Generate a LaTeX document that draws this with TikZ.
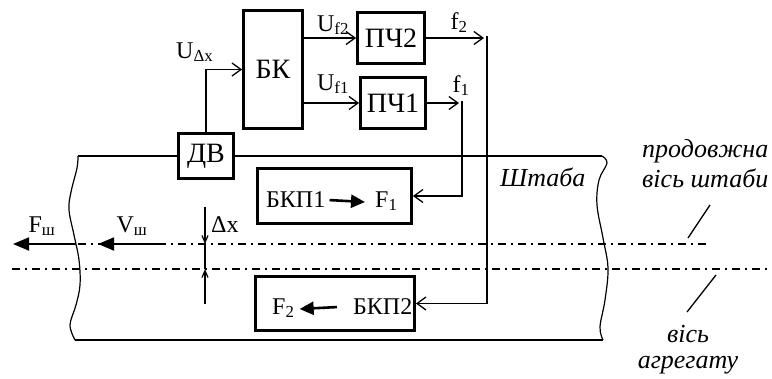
\documentclass[tikz,border=0pt]{standalone}
\usepackage{fontspec}
\setmainfont{Liberation Serif}
\usetikzlibrary{arrows.meta}
\begin{document}
\begin{tikzpicture}[x=1pt,y=-1pt,
  font=\fontsize{24}{28}\selectfont,
  blk/.style={draw,line width=2.8pt,inner sep=0pt},
  blkt/.style={font=\fontsize{28}{32}\selectfont},
  wire/.style={line width=1.3pt},
  sig/.style={wire,-{Straight Barb[length=9pt,width=13pt,line width=1.3pt]}},
  big/.style={line width=1.8pt,-{Triangle[length=16pt,width=13pt]}},
  inarr/.style={line width=2.6pt,-{Triangle[length=14pt,width=13pt]}},
  small/.style={line width=1.2pt,-{Straight Barb[length=7pt,width=6pt,line width=1.2pt]}},
  axisl/.style={line width=1.3pt,dash pattern=on 8pt off 5pt on 2pt off 5pt},
  stripe/.style={line width=2.6pt},
  wavy/.style={line width=1.2pt},
  lbl/.style={inner sep=0pt,anchor=base},
  lbll/.style={inner sep=0pt,anchor=base west},
  ital/.style={font=\fontsize{26}{30}\selectfont\itshape}
]
\useasboundingbox (0,0) rectangle (772,378);

% blocks
\node[blk,blkt,minimum width=55pt,minimum height=45pt] (dv) at (206,156) {ДВ};
\node[blk,blkt,minimum width=59pt,minimum height=118pt] (bk) at (273,69.5) {БК};
\node[blk,blkt,minimum width=67pt,minimum height=51pt] (pch2) at (391,38) {ПЧ2};
\node[blk,blkt,minimum width=65pt,minimum height=51pt] (pch1) at (393,103) {ПЧ1};
\node[blk,minimum width=154pt,minimum height=55pt] (bkp1) at (334.5,196) {};
\node[blk,minimum width=159pt,minimum height=54pt] (bkp2) at (335,303.5) {};

% inner texts of the regulator blocks
\node[lbll] (b1a) at (266,207) {БКП1};
\node[lbll] (b1b) at (375,207) {F\textsubscript{1}};
\draw[inarr] ([xshift=4pt,yshift=-1pt]b1a.east) -- ([xshift=-10pt,yshift=-1pt]b1b.west);
\node[lbll] (b2a) at (272,314) {F\textsubscript{2}};
\node[lbll] (b2b) at (353,314) {БКП2};
\draw[inarr] ([xshift=-16pt,yshift=-1pt]b2b.west) -- ([xshift=5pt,yshift=-1pt]b2a.east);

% strip
\coordinate (stl) at (78,156);
\coordinate (str) at (602,156);
\coordinate (sbl) at (75,340);
\coordinate (sbr) at (603,340);
\draw[stripe] (stl) -- (dv.west);
\draw[stripe] (dv.east) -- (str);
\draw[stripe] (sbl) -- (sbr);
\draw[wavy] plot[smooth,tension=0.6] coordinates {(78,156) (77,168) (71,192) (69,210) (74,235) (79,260) (80,285) (76,305) (70,325) (75,340)};
\draw[wavy] plot[smooth,tension=0.6] coordinates {(602,156) (607,163) (599,180) (597,205) (603,238) (608,268) (605,300) (600,327) (603,340)};

% signal connections
\draw[sig] (dv.north) |- (bk.west);
\node[lbll] (uDx) at (176,58) {U\textsubscript{Δx}};
\draw[sig] (bk.east |- pch2.west) -- (pch2.west);
\draw[sig] (bk.east |- pch1.west) -- (pch1.west);
\node[lbl] (uf2) at (333,31) {U\textsubscript{f2}};
\node[lbl] (uf1) at (333,90) {U\textsubscript{f1}};

\coordinate (f2t) at (484,38);
\coordinate (f2v) at (487,36);
\draw[sig] (pch2.east) -- (f2t);
\draw[sig] (f2v) |- (bkp2.east);
\node[lbl] (f2) at (459,29) {f\textsubscript{2}};

\coordinate (f1t) at (459,103);
\coordinate (f1v) at (462,101);
\draw[sig] (pch1.east) -- (f1t);
\draw[sig] (f1v) |- (bkp1.east);
\node[lbl] (f1) at (461,92) {f\textsubscript{1}};

% axes
\coordinate (a1l) at (78,244);
\coordinate (a1r) at (710,244);
\coordinate (a2l) at (12,269);
\coordinate (a2r) at (772,269);
\draw[axisl] (a1l) -- (a1r);
\draw[axisl] (a2l) -- (a2r);

% forces
\coordinate (fs0) at (76,244);
\coordinate (fs1) at (13,244);
\draw[big] (fs0) -- (fs1);
\node[lbl] (fsh) at (42,232) {F\textsubscript{ш}};
\coordinate (vs0) at (160,244);
\coordinate (vs1) at (98,244);
\draw[big] (vs0) -- (vs1);
\node[lbl] (vsh) at (132,232) {V\textsubscript{ш}};

% delta x
\coordinate (dx0) at (205,207);
\coordinate (dx1) at (205,244);
\coordinate (dx2) at (205,269);
\coordinate (dx3) at (205,304);
\draw[small] (dx0) -- (dx1);
\draw[small] (dx3) -- (dx2);
\draw[line width=1.2pt] (dx1) -- (dx2);
\node[lbll] (dxl) at (211,232) {Δx};

% italic labels
\node[lbll,ital] (shtaba) at (500,186) {Штаба};
\node[lbll,ital] (prod1) at (642,157) {продовжна};
\node[lbll,ital] (prod2) at (642,187) {вісь штаби};
\coordinate (ld1a) at (710,205);
\coordinate (ld1b) at (688,238);
\draw[wire] (ld1a) -- (ld1b);
\coordinate (ld2a) at (716,275);
\coordinate (ld2b) at (687,312);
\draw[wire] (ld2a) -- (ld2b);
\node[lbl,ital] (agr1) at (688,342) {вісь};
\node[lbl,ital] (agr2) at (688,368) {агрегату};
\end{tikzpicture}
\end{document}
